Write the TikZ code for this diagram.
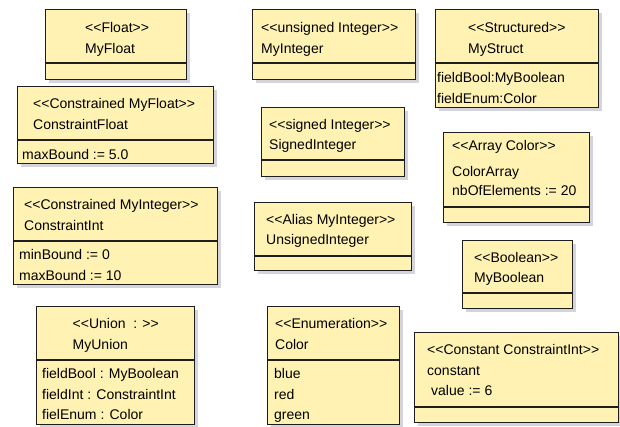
\documentclass[tikz,border=0pt]{standalone}
\usepackage{fontspec}
\setmainfont{Liberation Sans}[Ligatures=TeXOff]
\usetikzlibrary{shadows}
\definecolor{umlfill}{HTML}{FFF2B3}
\definecolor{umlline}{HTML}{1E1E1E}
\definecolor{umlshadow}{HTML}{D4D4DC}
\tikzset{
  umlbox/.style={draw=umlline, fill=umlfill, line width=1.4pt, inner sep=0pt, anchor=north west,
    drop shadow={shadow xshift=3pt, shadow yshift=-3pt, fill=umlshadow, opacity=1}},
  divline/.style={draw=umlline, line width=1.4pt},
  txt/.style={anchor=base west, inner sep=0pt, font=\fontsize{14}{17}\selectfont, text=black}
}
\newcommand{\umlrect}[6]{%
  \node[umlbox, minimum width=#4pt-#2pt, minimum height=#5pt-#3pt] (#1) at (#2,#3) {};
  \draw[divline] (#2,#6) -- (#4,#6);
}
\begin{document}
\begin{tikzpicture}[x=1pt,y=-1pt]
\useasboundingbox (0,0) rectangle (620,426);
% boxes
\umlrect{bfloat}{45}{9}{186}{79}{63}
\umlrect{bcfloat}{17}{86}{213}{163}{140}
\umlrect{bcint}{13}{187}{217}{284}{241}
\umlrect{bunion}{36}{306}{194}{424}{360}
\umlrect{bmyint}{252}{9}{415}{79}{63}
\umlrect{bsint}{261}{107}{404}{176}{160}
\umlrect{buint}{254}{202}{411}{270}{256}
\umlrect{bcolor}{267}{306}{399}{424}{360}
\umlrect{bstruct}{435}{9}{598}{107}{63}
\umlrect{barray}{443}{132}{589}{222}{207}
\umlrect{bbool}{462}{240}{572}{308}{293}
\umlrect{bconst}{414}{332}{618}{422}{407}
% texts
\node[txt] (t1a) at (85,32) {<<Float>>};
\node[txt] (t1b) at (85,53) {MyFloat};
\node[txt] (t2a) at (33,108) {<<Constrained MyFloat>>};
\node[txt] (t2b) at (33,129) {ConstraintFloat};
\node[txt] (t2c) at (22,159) {maxBound := 5.0};
\node[txt] (t3a) at (24,209) {<<Constrained MyInteger>>};
\node[txt] (t3b) at (24,230) {ConstraintInt};
\node[txt] (t3c) at (19,259) {minBound := 0};
\node[txt] (t3d) at (19,280) {maxBound := 10};
\node[txt] (t4a) at (72.5,328) {<<Union\ \ : >>};
\node[txt] (t4b) at (72.5,349) {MyUnion};
\node[txt] (t4c) at (42,378) {fieldBool : MyBoolean};
\node[txt] (t4d) at (42,399) {fieldInt : ConstraintInt};
\node[txt] (t4e) at (42,419) {fielEnum : Color};
\node[txt] (t5a) at (261,32) {<<unsigned Integer>>};
\node[txt] (t5b) at (261,53) {MyInteger};
\node[txt] (t6a) at (269,129) {<<signed Integer>>};
\node[txt] (t6b) at (269,149) {SignedInteger};
\node[txt] (t7a) at (266,224) {<<Alias MyInteger>>};
\node[txt] (t7b) at (266,244) {UnsignedInteger};
\node[txt] (t8a) at (275,328) {<<Enumeration>>};
\node[txt] (t8b) at (275,349) {Color};
\node[txt] (t8c) at (274,378) {blue};
\node[txt] (t8d) at (274,399) {red};
\node[txt] (t8e) at (274,419) {green};
\node[txt] (t9a) at (468,32) {<<Structured>>};
\node[txt] (t9b) at (468,53) {MyStruct};
\node[txt] (t9c) at (437,82) {fieldBool:MyBoolean};
\node[txt] (t9d) at (437,103) {fieldEnum:Color};
\node[txt] (t10a) at (452,150) {<<Array Color>>};
\node[txt] (t10b) at (452,176) {ColorArray};
\node[txt] (t10c) at (452,195) {nbOfElements := 20};
\node[txt] (t11a) at (474,262) {<<Boolean>>};
\node[txt] (t11b) at (474,282) {MyBoolean};
\node[txt] (t12a) at (427,354) {<<Constant ConstraintInt>>};
\node[txt] (t12b) at (427,375) {constant};
\node[txt] (t12c) at (431,395) {value := 6};
\end{tikzpicture}
\end{document}
